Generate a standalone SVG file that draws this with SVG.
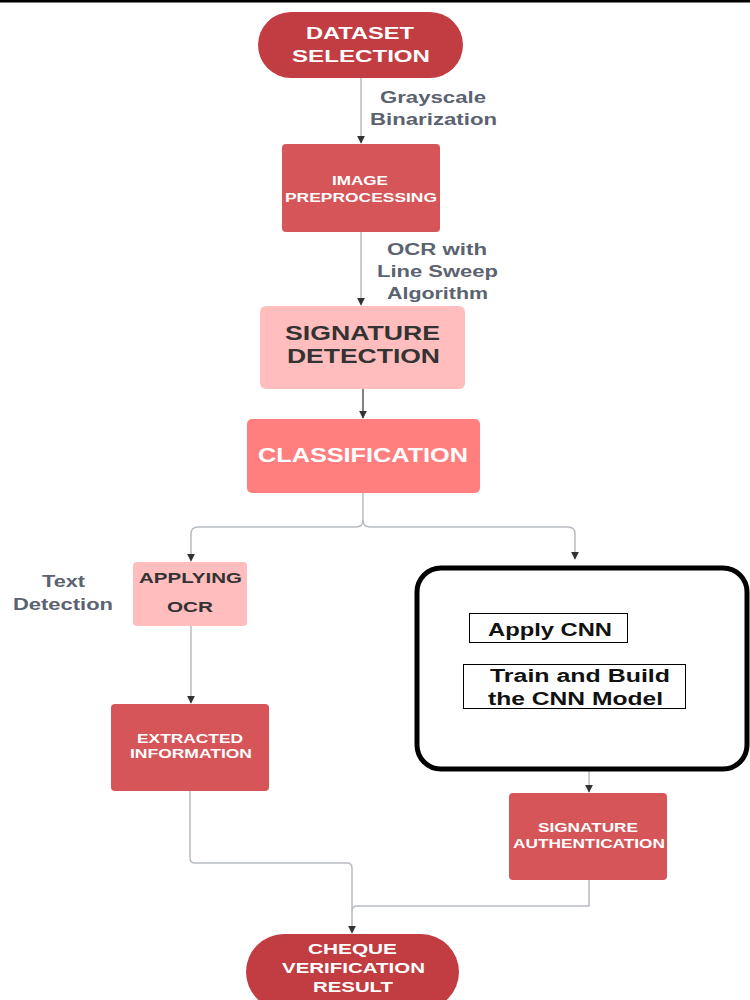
<svg xmlns="http://www.w3.org/2000/svg" width="750" height="1000" viewBox="0 0 750 1000">
<defs>
<style>
text{lengthAdjust:spacingAndGlyphs}
.lbl{font-family:"Liberation Sans",Arial,sans-serif;font-weight:bold;fill:#5b6270;font-size:16px;text-anchor:middle}
.w{font-family:"Liberation Sans",Arial,sans-serif;font-weight:bold;fill:#fff;text-anchor:middle}
.d{font-family:"Liberation Sans",Arial,sans-serif;font-weight:bold;fill:#333;text-anchor:middle}
.k{font-family:"Liberation Sans",Arial,sans-serif;font-weight:bold;fill:#111;text-anchor:middle;font-size:18px}
.c{fill:none;stroke:#b8bcc2;stroke-width:1.5}
.ca{fill:none;stroke:#555a60;stroke-width:1.5}
</style>
<marker id="ah" viewBox="0 0 10 10" refX="9" refY="5" markerWidth="8" markerHeight="8" orient="auto" markerUnits="userSpaceOnUse">
<path d="M0,0 L10,5 L0,10 z" fill="#333"/>
</marker>
</defs>
<rect x="0" y="0" width="750" height="1000" fill="#fff"/>
<rect x="0" y="0" width="750" height="2.5" fill="#000"/>

<g id="connectors">
<path class="c" d="M361,78 V143" marker-end="url(#ah)"/>
<path class="c" d="M361,232 V305" marker-end="url(#ah)"/>
<path class="ca" d="M363,389 V418" marker-end="url(#ah)"/>
<path class="c" d="M363,493 V520"/>
<path class="c" d="M363,520 Q363,527 356,527 H198 Q191,527 191,534 V561" marker-end="url(#ah)"/>
<path class="c" d="M363,520 Q363,527 370,527 H568 Q575,527 575,534 V559" marker-end="url(#ah)"/>
<path class="c" d="M191,626 V703" marker-end="url(#ah)"/>
<path class="c" d="M589,770 V792" marker-end="url(#ah)"/>
<path class="c" d="M190,791 V858 Q190,863 195,863 H347 Q352,863 352,868 V933" marker-end="url(#ah)"/>
<path class="c" d="M589,880 V906 H357 Q352,906 352,911"/>
<text class="lbl" x="433" y="103" textLength="106" lengthAdjust="spacingAndGlyphs">Grayscale</text>
<text class="lbl" x="433.5" y="125" textLength="127" lengthAdjust="spacingAndGlyphs">Binarization</text>
<text class="lbl" x="437" y="255" textLength="100" lengthAdjust="spacingAndGlyphs">OCR with</text>
<text class="lbl" x="437.5" y="277" textLength="121" lengthAdjust="spacingAndGlyphs">Line Sweep</text>
<text class="lbl" x="437.5" y="299" textLength="101" lengthAdjust="spacingAndGlyphs">Algorithm</text>
<text class="lbl" x="63.5" y="587" textLength="43" lengthAdjust="spacingAndGlyphs">Text</text>
<text class="lbl" x="63" y="610" textLength="100" lengthAdjust="spacingAndGlyphs">Detection</text>
</g>

<g id="dataset-selection">
<rect x="258" y="12" width="205" height="66" rx="33" fill="#c23d42"/>
<text class="w" x="360" y="39" font-size="16" textLength="108" lengthAdjust="spacingAndGlyphs">DATASET</text>
<text class="w" x="361" y="62" font-size="16" textLength="138" lengthAdjust="spacingAndGlyphs">SELECTION</text>
</g>

<g id="image-preprocessing">
<rect x="282" y="144" width="158" height="88" rx="4" fill="#d65558"/>
<text class="w" x="360" y="185" font-size="13" textLength="56" lengthAdjust="spacingAndGlyphs">IMAGE</text>
<text class="w" x="361" y="202" font-size="13" textLength="152" lengthAdjust="spacingAndGlyphs">PREPROCESSING</text>
</g>

<g id="signature-detection">
<rect x="260" y="306" width="205" height="83" rx="6" fill="#ffbdbd"/>
<text class="d" x="362.5" y="340" font-size="20" textLength="155" lengthAdjust="spacingAndGlyphs">SIGNATURE</text>
<text class="d" x="363.5" y="363" font-size="20" textLength="153" lengthAdjust="spacingAndGlyphs">DETECTION</text>
</g>

<g id="classification">
<rect x="247" y="419" width="233" height="74" rx="5" fill="#ff7f7f"/>
<text class="w" x="363" y="462" font-size="20" textLength="210" lengthAdjust="spacingAndGlyphs">CLASSIFICATION</text>
</g>

<g id="applying-ocr">
<rect x="133" y="562" width="114" height="64" rx="4" fill="#ffbdbd"/>
<text class="d" x="190.5" y="583" font-size="15" textLength="103" lengthAdjust="spacingAndGlyphs">APPLYING</text>
<text class="d" x="190" y="612" font-size="15" textLength="46" lengthAdjust="spacingAndGlyphs">OCR</text>
</g>

<g id="extracted-information">
<rect x="111" y="704" width="158" height="87" rx="4" fill="#d65558"/>
<text class="w" x="190" y="743" font-size="13" textLength="106" lengthAdjust="spacingAndGlyphs">EXTRACTED</text>
<text class="w" x="191" y="758" font-size="13" textLength="122" lengthAdjust="spacingAndGlyphs">INFORMATION</text>
</g>

<g id="cnn-block">
<rect x="417" y="568" width="330" height="201" rx="24" fill="#fff" stroke="#000" stroke-width="5"/>
<rect x="469.5" y="613.5" width="158" height="29" fill="#fff" stroke="#000" stroke-width="1"/>
<text class="k" x="550" y="636" textLength="124" lengthAdjust="spacingAndGlyphs">Apply CNN</text>
<rect x="463.5" y="664.5" width="222" height="44" fill="#fff" stroke="#000" stroke-width="1"/>
<text class="k" x="580" y="682" textLength="180" lengthAdjust="spacingAndGlyphs">Train and Build</text>
<text class="k" x="575.5" y="705" textLength="175" lengthAdjust="spacingAndGlyphs">the CNN Model</text>
</g>

<g id="signature-authentication">
<rect x="509" y="793" width="158" height="87" rx="4" fill="#d65558"/>
<text class="w" x="588" y="832" font-size="13" textLength="100" lengthAdjust="spacingAndGlyphs">SIGNATURE</text>
<text class="w" x="589" y="848" font-size="13" textLength="152" lengthAdjust="spacingAndGlyphs">AUTHENTICATION</text>
</g>

<g id="cheque-verification-result">
<rect x="246" y="934" width="213" height="76" rx="38" fill="#c23d42"/>
<text class="w" x="352.5" y="954" font-size="15" textLength="89" lengthAdjust="spacingAndGlyphs">CHEQUE</text>
<text class="w" x="353.5" y="973" font-size="15" textLength="143" lengthAdjust="spacingAndGlyphs">VERIFICATION</text>
<text class="w" x="353" y="992" font-size="15" textLength="80" lengthAdjust="spacingAndGlyphs">RESULT</text>
</g>
</svg>
